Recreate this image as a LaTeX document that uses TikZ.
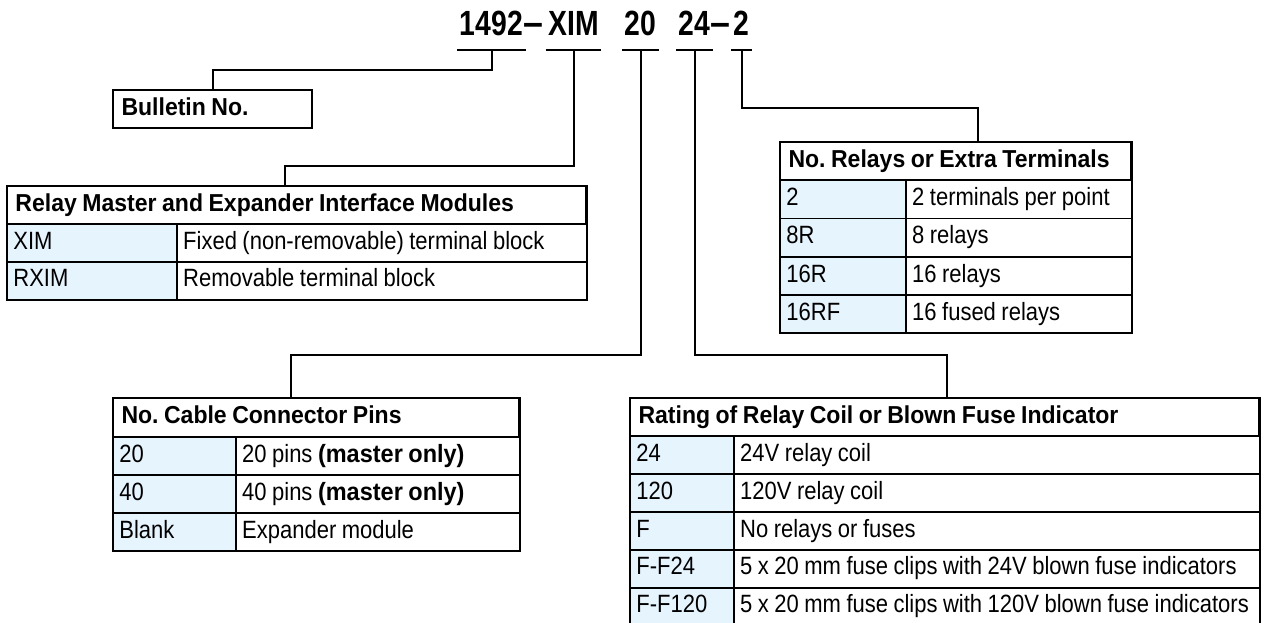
\documentclass[tikz,border=0pt]{standalone}
\usepackage{fontspec}
\usepackage{xcolor}
\usetikzlibrary{positioning}
\newfontfamily\condfont[FakeStretch=0.88]{Liberation Sans}
\newfontfamily\headfont[FakeStretch=0.94]{Liberation Sans}
\newfontfamily\partfont[FakeStretch=0.81]{Liberation Sans}
\newcommand\hdrfont{\headfont\bfseries\fontsize{24.5}{27}\selectfont}
\newcommand\cellfont{\condfont\fontsize{25}{27}\selectfont}
\newcommand\tightspace{\spaceskip 5.5pt plus 1pt\relax}
\definecolor{keyfill}{HTML}{E6F4FE}
\tikzset{
  link/.style={draw=black, line width=2pt},
  uline/.style={draw=black, line width=2pt},
  frame/.style={draw=black, line width=2pt},
  part/.style={font=\partfont\bfseries\fontsize{35}{40}\selectfont, inner xsep=2.5pt, inner ysep=15pt, text depth=0pt, anchor=base},
  partdash/.style={font=\headfont\bfseries\fontsize{38}{40}\selectfont, inner sep=0pt, anchor=base},
  hdr/.style 2 args={draw=black, line width=1pt, font=\hdrfont, execute at begin node=\tightspace,
    inner xsep=8pt, inner ysep=0pt, align=left, text width=#1, minimum height=#2,
    text height=17.5pt, text depth=5pt, anchor=north west},
  keycell/.style 2 args={draw=black, line width=0.8pt, fill=keyfill, font=\cellfont, execute at begin node=\tightspace,
    inner xsep=6pt, inner ysep=0pt, align=left, text width=#1, minimum height=#2,
    text height=17.5pt, text depth=5pt},
  desccell/.style 2 args={draw=black, line width=0.8pt, fill=white, font=\cellfont, execute at begin node=\tightspace,
    inner xsep=6pt, inner ysep=0pt, align=left, text width=#1, minimum height=#2,
    text height=17.5pt, text depth=5pt},
}

\begin{document}
\frenchspacing
\begin{tikzpicture}[x=1pt, y=-1pt]
  \path[use as bounding box, fill=white] (0,0) rectangle (1264,622);

  % catalogue number
  \node[part] (t1492) at (491.5,35) {1492};
  \node[partdash] (dash1) at (533.5,35) {–};
  \node[part] (tXIM) at (573.5,35) {XIM};
  \node[part] (t20) at (640.5,35) {20};
  \node[part] (t24) at (694.5,35) {24};
  \node[partdash] (dash2) at (720,35) {–};
  \node[part] (t2) at (741.5,35) {2};

  \draw[uline] (t1492.south west) -- (t1492.south east);
  \draw[uline] (tXIM.south west) -- (tXIM.south east);
  \draw[uline] (t20.south west) -- (t20.south east);
  \draw[uline] (t24.south west) -- (t24.south east);
  \draw[uline] (t2.south west) -- (t2.south east);

  % bulletin
  \node[hdr={182pt}{37pt}] (hBull) at (113,90) {Bulletin No.};
  \draw[frame] (hBull.north west) rectangle (hBull.south east);

  % relay master / expander
  \node[hdr={562pt}{37pt}] (hRelay) at (7,186) {Relay Master and Expander Interface Modules};
  \node[keycell={157pt}{37pt}, below=0pt of hRelay.south west, anchor=north west] (kXIM) {XIM};
  \node[desccell={397pt}{37pt}, right=0pt of kXIM] (dXIM) {Fixed (non-removable) terminal block};
  \node[keycell={157pt}{37pt}, below=0pt of kXIM.south west, anchor=north west] (kRXIM) {RXIM};
  \node[desccell={397pt}{37pt}, right=0pt of kRXIM] (dRXIM) {Removable terminal block};
  \draw[frame] (hRelay.south west) -- (hRelay.south east);
  \draw[frame] (hRelay.north west) rectangle (dRXIM.south east);

  % relays / extra terminals
  \node[hdr={334pt}{37pt}] (hTerm) at (780,142) {No. Relays or Extra Terminals};
  \node[keycell={113pt}{37.5pt}, below=0pt of hTerm.south west, anchor=north west] (kT2) {2};
  \node[desccell={213pt}{37.5pt}, right=0pt of kT2] (dT2) {2 terminals per point};
  \node[keycell={113pt}{37.5pt}, below=0pt of kT2.south west, anchor=north west] (kT8R) {8R};
  \node[desccell={213pt}{37.5pt}, right=0pt of kT8R] (dT8R) {8 relays};
  \node[keycell={113pt}{37.5pt}, below=0pt of kT8R.south west, anchor=north west] (kT16R) {16R};
  \node[desccell={213pt}{37.5pt}, right=0pt of kT16R] (dT16R) {16 relays};
  \node[keycell={113pt}{37.5pt}, below=0pt of kT16R.south west, anchor=north west] (kT16RF) {16RF};
  \node[desccell={213pt}{37.5pt}, right=0pt of kT16RF] (dT16RF) {16 fused relays};
  \draw[frame] (hTerm.south west) -- (hTerm.south east);
  \draw[frame] (hTerm.north west) rectangle (dT16RF.south east);

  % cable connector pins
  \node[hdr={389pt}{38pt}] (hPins) at (113,398) {No. Cable Connector Pins};
  \node[keycell={110pt}{37.3pt}, below=0pt of hPins.south west, anchor=north west] (kP20) {20};
  \node[desccell={271pt}{37.3pt}, right=0pt of kP20] (dP20) {20 pins {\headfont\bfseries(master only)}};
  \node[keycell={110pt}{37.3pt}, below=0pt of kP20.south west, anchor=north west] (kP40) {40};
  \node[desccell={271pt}{37.3pt}, right=0pt of kP40] (dP40) {40 pins {\headfont\bfseries(master only)}};
  \node[keycell={110pt}{37.3pt}, below=0pt of kP40.south west, anchor=north west] (kPBlank) {Blank};
  \node[desccell={271pt}{37.3pt}, right=0pt of kPBlank] (dPBlank) {Expander module};
  \draw[frame] (hPins.south west) -- (hPins.south east);
  \draw[frame] (hPins.north west) rectangle (dPBlank.south east);

  % coil / fuse indicator rating
  \node[hdr={612pt}{37pt}] (hRating) at (630,398) {Rating of Relay Coil or Blown Fuse Indicator};
  \node[keycell={91pt}{37.1pt}, below=0pt of hRating.south west, anchor=north west] (kR24) {24};
  \node[desccell={513pt}{37.1pt}, right=0pt of kR24] (dR24) {24V relay coil};
  \node[keycell={91pt}{37.1pt}, below=0pt of kR24.south west, anchor=north west] (kR120) {120};
  \node[desccell={513pt}{37.1pt}, right=0pt of kR120] (dR120) {120V relay coil};
  \node[keycell={91pt}{37.1pt}, below=0pt of kR120.south west, anchor=north west] (kRF) {F};
  \node[desccell={513pt}{37.1pt}, right=0pt of kRF] (dRF) {No relays or fuses};
  \node[keycell={91pt}{37.1pt}, below=0pt of kRF.south west, anchor=north west] (kRF24) {F-F24};
  \node[desccell={513pt}{37.1pt}, right=0pt of kRF24] (dRF24) {5 x 20 mm fuse clips with 24V blown fuse indicators};
  \node[keycell={91pt}{37.1pt}, below=0pt of kRF24.south west, anchor=north west] (kRF120) {F-F120};
  \node[desccell={513pt}{37.1pt}, right=0pt of kRF120] (dRF120) {5 x 20 mm fuse clips with 120V blown fuse indicators};
  \draw[frame] (hRating.south west) -- (hRating.south east);
  \draw[frame] (hRating.north west) rectangle (dRF120.south east);

  % leader lines
  \coordinate (j1492) at (213,70);
  \coordinate (jXIM) at (285,166);
  \coordinate (j20) at (291,355);
  \coordinate (j24) at (947,355);
  \coordinate (j2) at (978,108);
  \draw[link] (t1492.south) |- (j1492) -- (j1492 |- hBull.north);
  \draw[link] (tXIM.south) |- (jXIM) -- (jXIM |- hRelay.north);
  \draw[link] (t20.south) |- (j20) -- (j20 |- hPins.north);
  \draw[link] (t24.south) |- (j24) -- (j24 |- hRating.north);
  \draw[link] (t2.south) |- (j2) -- (j2 |- hTerm.north);
\end{tikzpicture}
\end{document}
